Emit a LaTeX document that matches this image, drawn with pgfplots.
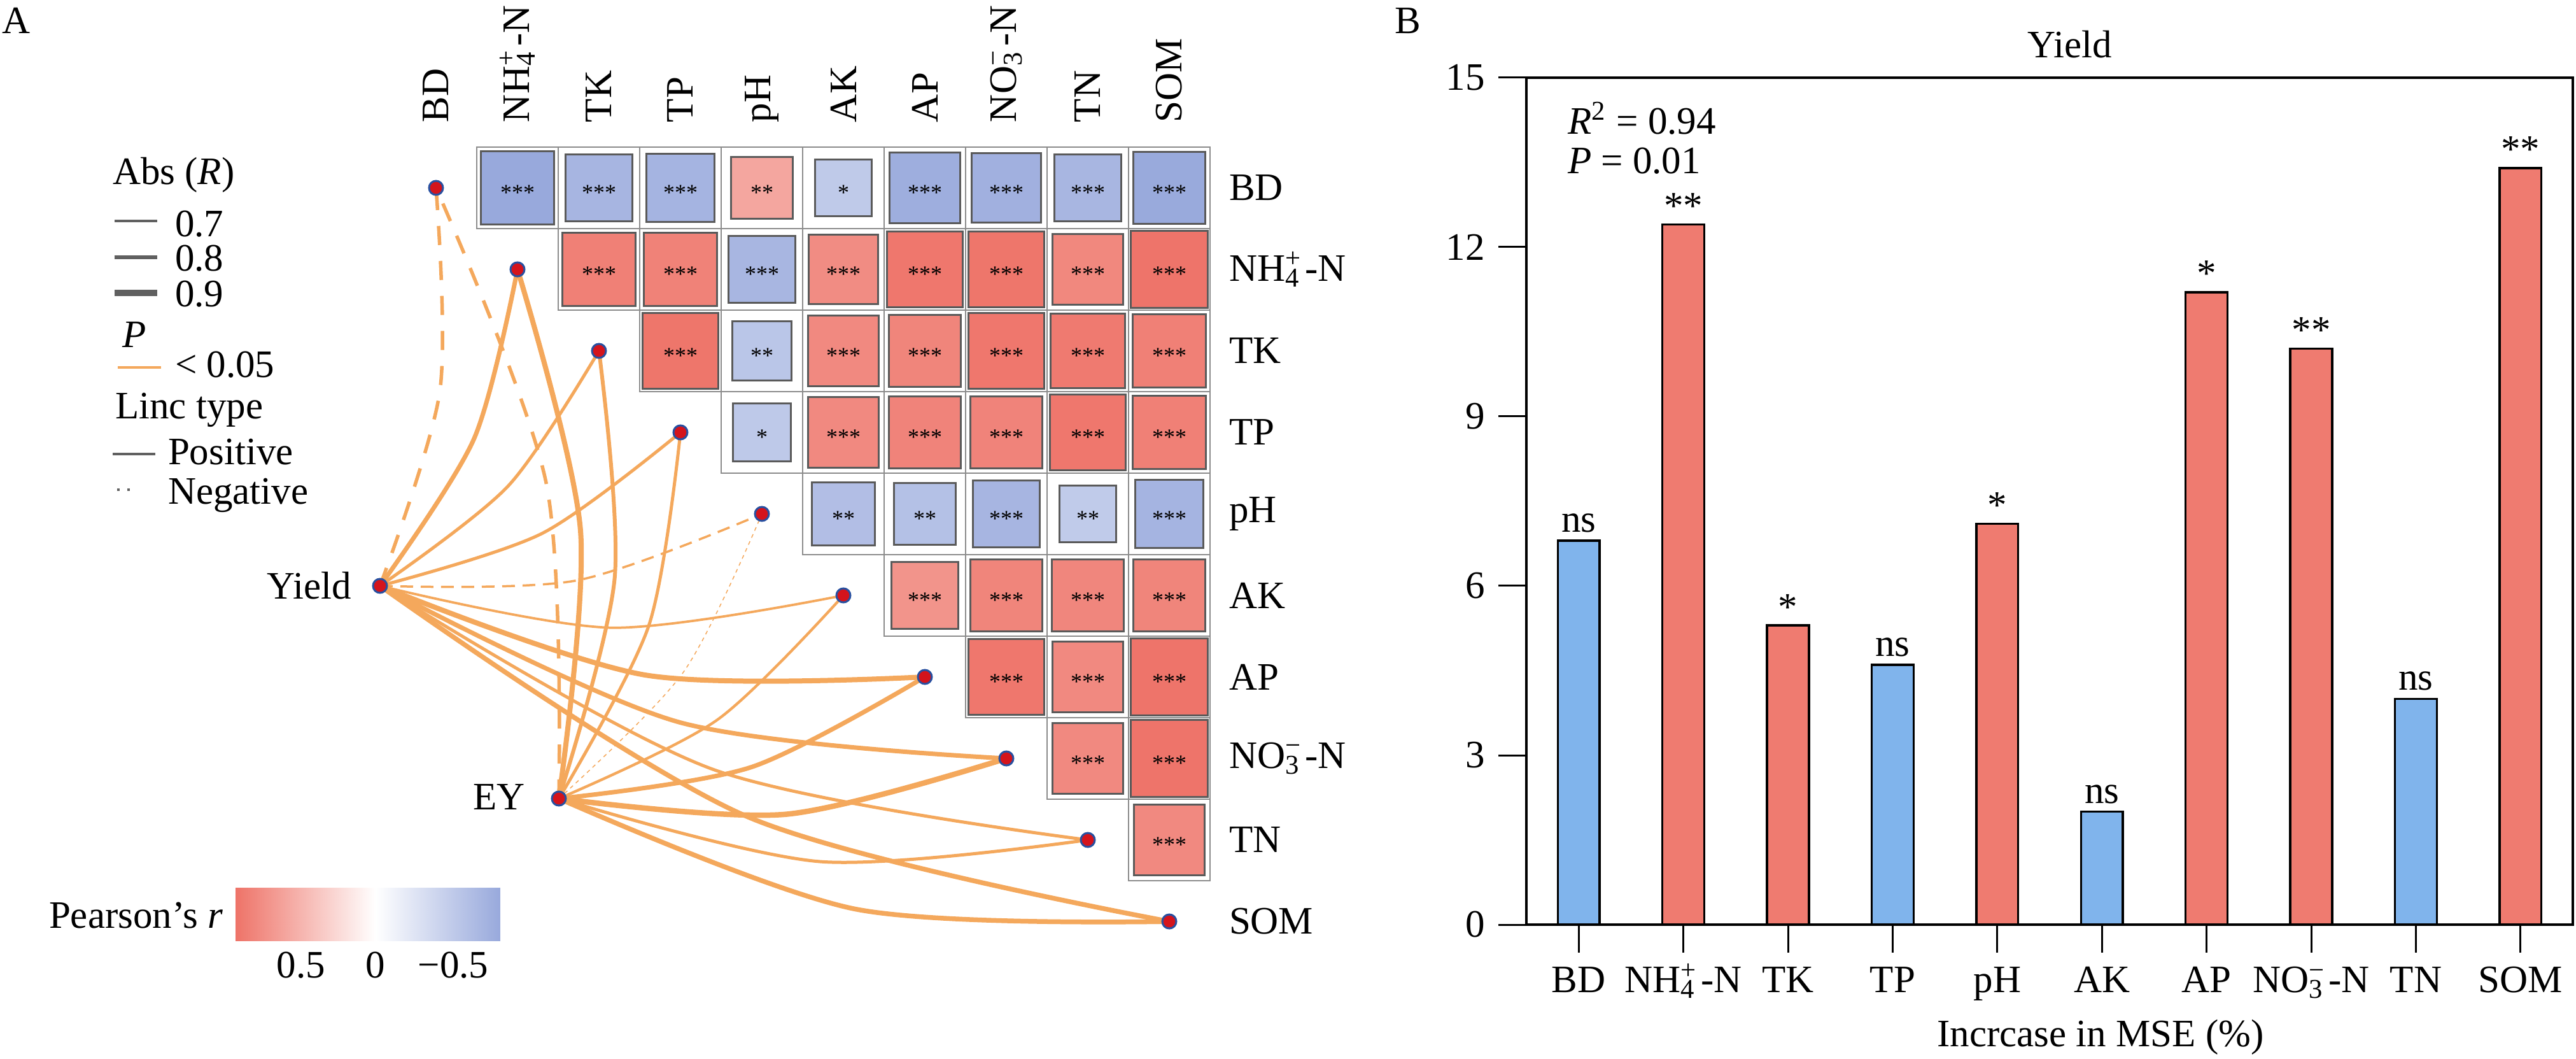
\documentclass[border=0pt]{standalone}
\usepackage{fontspec}
\setmainfont{Liberation Serif}
\usepackage{pgfplots}
\usepackage{pgfplotstable}
\pgfplotsset{compat=1.18}
\definecolor{linkc}{RGB}{244,168,92}
\definecolor{nodered}{RGB}{212,20,28}
\definecolor{nodeblue}{RGB}{40,80,160}
\definecolor{gridgray}{RGB}{140,140,140}
\definecolor{innergray}{RGB}{90,90,90}
\definecolor{legendgray}{RGB}{96,96,96}
\definecolor{barblue}{RGB}{128,180,236}
\definecolor{barred}{RGB}{239,123,112}
\pgfplotsset{colormap={rb}{rgb255(0cm)=(152,169,220) rgb255(0.84cm)=(255,255,255) rgb255(1.78cm)=(238,115,104)}}

% i = row, j = column, r = Pearson's r, m = half side of the square (pt), stars = significance
\pgfplotstableread{
i j r m stars
0 1 -0.84 11.43 ***
0 2 -0.72 10.56 ***
0 3 -0.73 10.64 ***
0 4 0.60 9.61 **
0 5 -0.52 8.93 *
0 6 -0.79 11.08 ***
0 7 -0.77 10.93 ***
0 8 -0.71 10.49 ***
0 9 -0.83 11.36 ***
1 2 0.85 11.50 ***
1 3 0.84 11.43 ***
1 4 -0.71 10.49 ***
1 5 0.77 10.93 ***
1 6 0.91 11.91 ***
1 7 0.92 11.98 ***
1 8 0.80 11.15 ***
1 9 0.93 12.04 ***
2 3 0.92 11.98 ***
2 4 -0.56 9.28 **
2 5 0.79 11.08 ***
2 6 0.82 11.29 ***
2 7 0.91 11.91 ***
2 8 0.89 11.78 ***
2 9 0.85 11.50 ***
3 4 -0.53 9.02 *
3 5 0.79 11.08 ***
3 6 0.83 11.36 ***
3 7 0.83 11.36 ***
3 8 0.91 11.91 ***
3 9 0.85 11.50 ***
4 5 -0.63 9.86 **
4 6 -0.61 9.70 **
4 7 -0.72 10.56 ***
4 8 -0.51 8.84 **
4 9 -0.73 10.64 ***
5 6 0.72 10.56 ***
5 7 0.82 11.29 ***
5 8 0.81 11.22 ***
5 9 0.82 11.29 ***
6 7 0.91 11.91 ***
6 8 0.79 11.08 ***
6 9 0.93 12.04 ***
7 8 0.79 11.08 ***
7 9 0.93 12.04 ***
8 9 0.79 11.08 ***
}\cells

\pgfplotstableread{
x y lab
0 6.8 ns
3 4.6 ns
5 2.0 ns
8 4.0 ns
}\bluebars

\pgfplotstableread{
x y lab
1 12.4 **
2 5.3 *
4 7.1 *
6 11.2 *
7 10.2 **
9 13.4 **
}\redbars

\newcommand{\nhfour}{NH\rlap{\textsuperscript{+}}\textsubscript{4}\kern0.12em-N}
\newcommand{\nothree}{NO\rlap{\textsuperscript{−}}\textsubscript{3}\kern0.12em-N}
\tikzset{lbl/.style={inner sep=0pt}, clab/.style={inner sep=0pt, rotate=90, anchor=west}, rlab/.style={inner sep=0pt, anchor=west}}

\begin{document}
\fontsize{12.2pt}{14.6pt}\selectfont
\begin{tikzpicture}
\begin{axis}[
  name=A, at={(0,0)}, anchor=south west,
  x=0.2pt, y=0.2pt, y dir=reverse,
  xmin=0, xmax=4047, ymin=0, ymax=1662,
  hide axis, clip=false, enlargelimits=false,
  point meta min=-0.84, point meta max=0.94,
]
% ---------- heatmap cells ----------
\addplot[only marks, mark=square, mark size=12.8pt,
  mark options={draw=gridgray, line width=0.5pt}]
  table[x expr={685+128*\thisrow{j}}, y expr={295+128*\thisrow{i}}] {\cells};
\addplot[scatter, only marks, mark=square*,
  point meta=\thisrow{r},
  scatter/use mapped color={draw=innergray, fill=mapped color},
  visualization depends on={\thisrow{m} \as \msz},
  scatter/@pre marker code/.append style={/tikz/mark size=\msz},
  mark options={line width=0.6pt}]
  table[x expr={685+128*\thisrow{j}}, y expr={295+128*\thisrow{i}}] {\cells};
\addplot[draw=none, mark=none, point meta=explicit symbolic, nodes near coords,
  nodes near coords style={anchor=center, inner sep=0pt, yshift=-1.5pt,
    font=\fontsize{7.2pt}{8pt}\selectfont}]
  table[x expr={685+128*\thisrow{j}}, y expr={295+128*\thisrow{i}}, meta=stars] {\cells};

% ---------- links from Yield ----------
\addplot[linkc, line width=1.1pt, dash pattern=on 6pt off 5pt, smooth] coordinates {(597,920) (691,614.5) (685,295)};
\addplot[linkc, line width=1.4pt, smooth] coordinates {(597,920) (744.8,688.8) (813,423)};
\addplot[linkc, line width=1.0pt, smooth] coordinates {(597,920) (798.5,763) (941,551)};
\addplot[linkc, line width=1.0pt, smooth] coordinates {(597,920) (852.3,837.3) (1069,679)};
\addplot[linkc, line width=0.7pt, dash pattern=on 4pt off 2.4pt, smooth] coordinates {(597,920) (906,911.5) (1197,807)};
\addplot[linkc, line width=0.75pt, smooth] coordinates {(597,920) (959.8,985.7) (1325,935)};
\addplot[linkc, line width=1.6pt, smooth] coordinates {(597,920) (1013.6,1060) (1453,1063)};
\addplot[linkc, line width=1.4pt, smooth] coordinates {(597,920) (1067.3,1134.2) (1581,1191)};
\addplot[linkc, line width=1.0pt, smooth] coordinates {(597,920) (1121.1,1208.5) (1709,1319)};
\addplot[linkc, line width=1.5pt, smooth] coordinates {(597,920) (1174.8,1282.7) (1837,1447)};
% ---------- links from EY ----------
\addplot[linkc, line width=1.1pt, dash pattern=on 6pt off 5pt, smooth] coordinates {(878,1254) (858.2,759.1) (685,295)};
\addplot[linkc, line width=1.6pt, smooth] coordinates {(878,1254) (912,833.3) (813,423)};
\addplot[linkc, line width=1.2pt, smooth] coordinates {(878,1254) (965.7,907.5) (941,551)};
\addplot[linkc, line width=1.0pt, smooth] coordinates {(878,1254) (1019.5,981.8) (1069,679)};
\addplot[linkc, line width=0.3pt, dash pattern=on 1.2pt off 1.2pt, smooth] coordinates {(878,1254) (1073.3,1056) (1197,807)};
\addplot[linkc, line width=0.85pt, smooth] coordinates {(878,1254) (1127,1130.3) (1325,935)};
\addplot[linkc, line width=1.4pt, smooth] coordinates {(878,1254) (1180.8,1204.5) (1453,1063)};
\addplot[linkc, line width=1.7pt, smooth] coordinates {(878,1254) (1234.5,1278.7) (1581,1191)};
\addplot[linkc, line width=1.0pt, smooth] coordinates {(878,1254) (1288.3,1353) (1709,1319)};
\addplot[linkc, line width=1.5pt, smooth] coordinates {(878,1254) (1342.1,1427.2) (1837,1447)};

% ---------- nodes ----------
\addplot[only marks, mark=*, mark size=2.2pt,
  mark options={fill=nodered, draw=nodeblue, line width=0.6pt}]
  coordinates {(597,920) (878,1254) (685,295) (813,423) (941,551) (1069,679) (1197,807)
               (1325,935) (1453,1063) (1581,1191) (1709,1319) (1837,1447)};

% ---------- labels panel A ----------
\node[lbl, anchor=base west] at (3,52) {A};
\node[lbl, anchor=base west] at (2190,52) {B};
\node[lbl, anchor=east] at (553,920) {Yield};
\node[lbl, anchor=east] at (826,1252) {EY};
\node[clab] at (685,193) {BD};
\node[clab] at (813,193) {\nhfour};
\node[clab] at (941,193) {TK};
\node[clab] at (1069,193) {TP};
\node[clab] at (1197,193) {pH};
\node[clab] at (1325,193) {AK};
\node[clab] at (1453,193) {AP};
\node[clab] at (1581,193) {\nothree};
\node[clab] at (1709,193) {TN};
\node[clab] at (1837,193) {SOM};
\node[rlab] at (1930,295) {BD};
\node[rlab] at (1930,423) {\nhfour};
\node[rlab] at (1930,551) {TK};
\node[rlab] at (1930,679) {TP};
\node[rlab] at (1930,807) {pH};
\node[rlab] at (1930,935) {AK};
\node[rlab] at (1930,1063) {AP};
\node[rlab] at (1930,1191) {\nothree};
\node[rlab] at (1930,1319) {TN};
\node[rlab] at (1930,1447) {SOM};
% legend
\node[lbl, anchor=base west] at (176,289) {Abs (\textit{R})};
\draw[legendgray, line width=0.72pt] (180,347) -- (247,347);
\draw[legendgray, line width=1.25pt] (180,404) -- (247,404);
\draw[legendgray, line width=1.96pt] (180,460) -- (247,460);
\node[lbl, anchor=base west] at (274,371) {0.7};
\node[lbl, anchor=base west] at (274,425) {0.8};
\node[lbl, anchor=base west] at (274,481) {0.9};
\node[lbl, anchor=base west] at (191,545) {\textit{P}};
\draw[linkc, line width=0.9pt] (185,577) -- (253,577);
\node[lbl, anchor=base west] at (274,592) {< 0.05};
\node[lbl, anchor=base west] at (180,657) {Linc type};
\draw[legendgray, line width=0.8pt] (177,713) -- (244,713);
\node[lbl, anchor=base west] at (263,729) {Positive};
\draw[legendgray, line width=0.8pt, dash pattern=on 0.8pt off 2.4pt] (184,769) -- (206,769);
\node[lbl, anchor=base west] at (263,791) {Negative};
% colour bar labels
\node[lbl, anchor=base east] at (351,1457) {Pearson’s \textit{r}};
\node[lbl, anchor=base] at (473,1535) {0.5};
\node[lbl, anchor=base] at (590,1535) {0};
\node[lbl, anchor=base] at (712,1535) {−0.5};
% panel B texts
\node[lbl, anchor=base] at (3252,90) {Yield};
\node[lbl, anchor=base west] at (2462,210) {\textit{R}\textsuperscript{2} = 0.94};
\node[lbl, anchor=base west] at (2462,272) {\textit{P} = 0.01};
\node[lbl, anchor=base] at (3300,1643) {Incrcase in MSE (\%)};
\end{axis}

% ---------- colour bar ----------
\begin{axis}[
  at={(74pt,36.8pt)}, anchor=south west, width=83.2pt, height=16.8pt, scale only axis,
  xmin=-0.84, xmax=0.94, ymin=0, ymax=1, x dir=reverse, hide axis, view={0}{90},
  point meta min=-0.84, point meta max=0.94, enlargelimits=false]
\addplot3[surf, shader=interp, point meta=x] coordinates {
(-0.84,0,0) (0,0,0) (0.94,0,0)

(-0.84,1,0) (0,1,0) (0.94,1,0)
};
\end{axis}

% ---------- panel B ----------
\begin{axis}[
  at={(479.6pt,42pt)}, anchor=south west, width=328.8pt, height=266pt, scale only axis,
  xmin=-0.5, xmax=9.5, ymin=0, ymax=15,
  ytick={0,3,6,9,12,15}, xtick={0,...,9},
  xticklabels={BD,\nhfour,TK,TP,pH,AK,AP,\nothree,TN,SOM},
  tick pos=left, tick align=outside, major tick length=8.8pt,
  axis line style={line width=0.8pt},
  major tick style={black, line width=0.6pt},
  /pgf/number format/assume math mode=true,
  xticklabel style={text height=0.68em, text depth=0.22em},
  ybar, bar width=0.4, clip=false,
]
\addplot[fill=barblue, draw=black, line width=0.7pt, bar shift=0pt,
  nodes near coords, point meta=explicit symbolic,
  nodes near coords style={anchor=base, inner sep=0pt, yshift=2.7pt}]
  table[x=x, y=y, meta=lab] {\bluebars};
\addplot[fill=barred, draw=black, line width=0.7pt, bar shift=0pt,
  nodes near coords, point meta=explicit symbolic,
  nodes near coords style={anchor=base, inner sep=0pt, yshift=1.8pt}]
  table[x=x, y=y, meta=lab] {\redbars};
\end{axis}
\pgfresetboundingbox
\path[use as bounding box] (0,0) rectangle (809.4pt,332.4pt);
\end{tikzpicture}
\end{document}
